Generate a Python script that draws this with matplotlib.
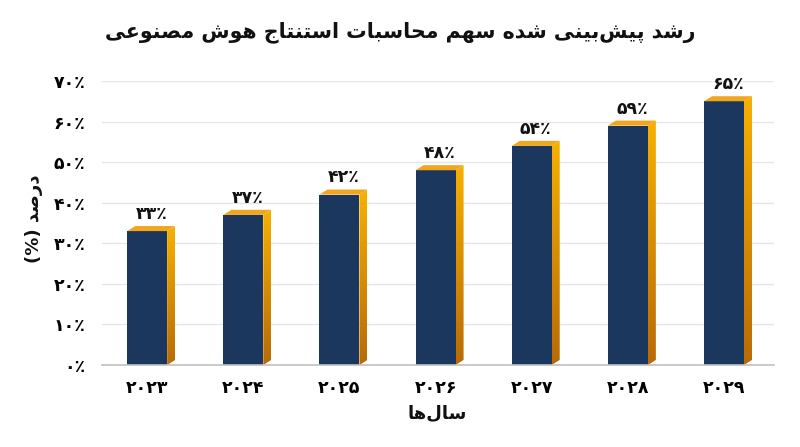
import numpy as np
import matplotlib
matplotlib.use('Agg')
from matplotlib import pyplot as plt
from matplotlib.patches import Polygon

# data
years = ['2023', '2024', '2025', '2026', '2027', '2028', '2029']
shares = [33, 37, 42, 48, 54, 59, 65]
y_ticks = [0, 10, 20, 30, 40, 50, 60, 70]

title = 'رشد پیش\u200cبینی شده سهم محاسبات استنتاج هوش مصنوعی'
x_label = 'سال\u200cها'
y_label = 'درصد'

# matplotlib has no arabic shaping, so map letters to presentation forms by hand
# (isolated, final, initial, medial)
FORMS = {
    'ا': (0xFE8D, 0xFE8E, 0xFE8D, 0xFE8E),
    'ب': (0xFE8F, 0xFE90, 0xFE91, 0xFE92),
    'پ': (0xFB56, 0xFB57, 0xFB58, 0xFB59),
    'ت': (0xFE95, 0xFE96, 0xFE97, 0xFE98),
    'ج': (0xFE9D, 0xFE9E, 0xFE9F, 0xFEA0),
    'ح': (0xFEA1, 0xFEA2, 0xFEA3, 0xFEA4),
    'د': (0xFEA9, 0xFEAA, 0xFEA9, 0xFEAA),
    'ر': (0xFEAD, 0xFEAE, 0xFEAD, 0xFEAE),
    'س': (0xFEB1, 0xFEB2, 0xFEB3, 0xFEB4),
    'ش': (0xFEB5, 0xFEB6, 0xFEB7, 0xFEB8),
    'ص': (0xFEB9, 0xFEBA, 0xFEBB, 0xFEBC),
    'ع': (0xFEC9, 0xFECA, 0xFECB, 0xFECC),
    'ل': (0xFEDD, 0xFEDE, 0xFEDF, 0xFEE0),
    'م': (0xFEE1, 0xFEE2, 0xFEE3, 0xFEE4),
    'ن': (0xFEE5, 0xFEE6, 0xFEE7, 0xFEE8),
    'ه': (0xFEE9, 0xFEEA, 0xFEEB, 0xFEEC),
    'و': (0xFEED, 0xFEEE, 0xFEED, 0xFEEE),
    'ی': (0xFEEF, 0xFEF0, 0xFEF3, 0xFEF4),
}
RIGHT_ONLY = set('ادذرزژو')


def shape(text):
    out = []
    for i, c in enumerate(text):
        if c not in FORMS:
            if c != '\u200c':
                out.append(c)
            continue
        prev = text[i - 1] if i > 0 else ''
        nxt = text[i + 1] if i + 1 < len(text) else ''
        p = prev in FORMS and prev not in RIGHT_ONLY
        n = c not in RIGHT_ONLY and nxt in FORMS
        f = FORMS[c]
        if p and n:
            g = f[3]
        elif p:
            g = f[1]
        elif n:
            g = f[2]
        else:
            g = f[0]
        out.append(chr(g))
    return ''.join(reversed(out))


def fa(s):
    return str(s).translate(str.maketrans('0123456789', '۰۱۲۳۴۵۶۷۸۹'))


plt.rcParams['font.family'] = ['DejaVu Sans']

navy = '#1b375d'
top_gold = '#f0a620'

fig = plt.figure(figsize=(8, 4.47), dpi=100)
ax = fig.add_axes([0.1275, 0.1834, 0.84, 0.6354])

x = np.arange(len(years))
w = 0.416
dx = 0.083
dy = 1.25

ax.bar(x, shares, width=w, color=navy, zorder=3)

grad = np.linspace(0, 1, 256).reshape(-1, 1)
side_cmap = matplotlib.colors.LinearSegmentedColormap.from_list('side', ['#b86a06', '#f7b100'])
for xi, h in zip(x, shares):
    x1 = xi + w / 2
    side = Polygon([(x1, 0), (x1 + dx, dy), (x1 + dx, h + dy), (x1, h)],
                   closed=True, facecolor='none', edgecolor='none', zorder=3)
    ax.add_patch(side)
    im = ax.imshow(grad, cmap=side_cmap, origin='lower', aspect='auto',
                   extent=(x1, x1 + dx, 0, h + dy), zorder=3)
    im.set_clip_path(side)
    top = Polygon([(xi - w / 2, h), (x1, h), (x1 + dx, h + dy), (xi - w / 2 + dx, h + dy)],
                  closed=True, facecolor=top_gold, edgecolor='none', zorder=3)
    ax.add_patch(top)
    ax.text(xi + dx / 2, h + 2.0, fa(h) + '٪', ha='center', va='bottom',
            fontsize=12.5, fontweight='bold', color='#111111', zorder=4)

ax.set_xlim(-0.47, 6.52)
ax.set_ylim(0, 70)
ax.set_xticks(x)
ax.set_xticklabels([fa(y) for y in years], fontsize=12.5, fontweight='bold')
ax.set_yticks(y_ticks)
ax.set_yticklabels([fa(t) + '٪' for t in y_ticks], fontsize=12.5, fontweight='bold')
ax.tick_params(length=0, pad=12)
ax.tick_params(axis='x', pad=10)

ax.grid(axis='y', color='#e6e6e6', linewidth=1, zorder=0)
for s in ['top', 'right', 'left']:
    ax.spines[s].set_visible(False)
ax.spines['bottom'].set_color('#c0c0c0')
ax.spines['bottom'].set_linewidth(1.2)
ax.spines['bottom'].set_zorder(4)

fig.text(0.5, 0.928, shape(title), ha='center', va='center',
         fontsize=14.8, fontweight='bold', color='#111111')
fig.text(0.547, 0.075, shape(x_label), ha='center', va='center',
         fontsize=13, fontweight='bold', color='#111111')
fig.text(0.042, 0.51, '(%) ' + shape(y_label), ha='center', va='center', rotation=90,
         fontsize=13, fontweight='bold', color='#111111')

plt.savefig('out.png', dpi=100)
